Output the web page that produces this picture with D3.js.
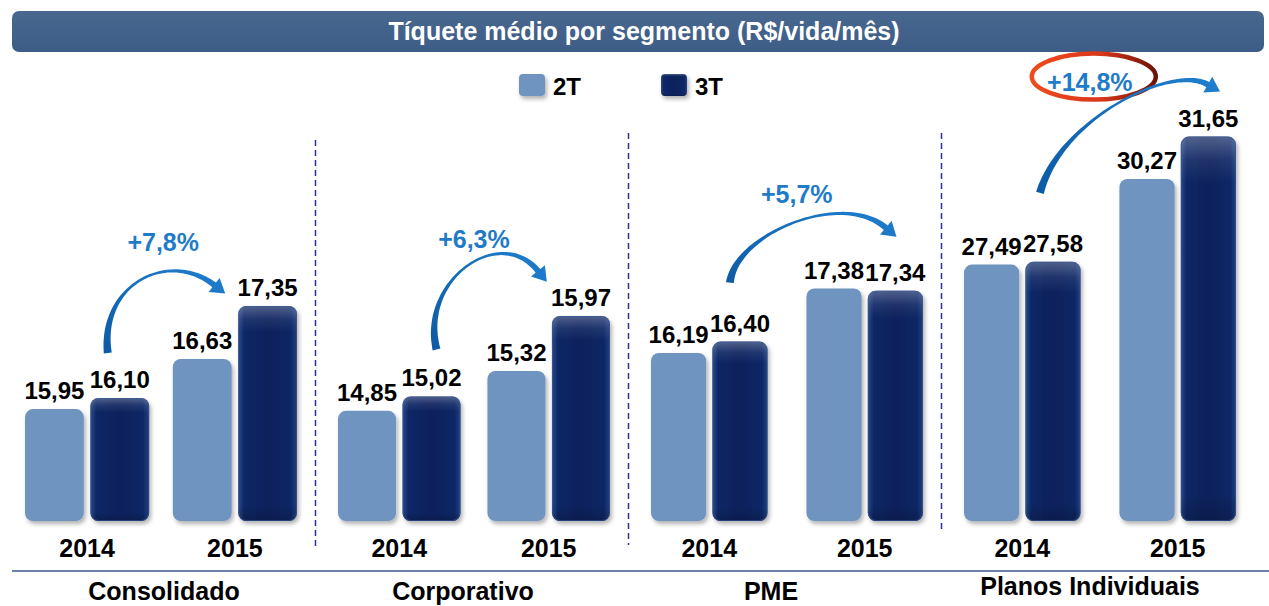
<!DOCTYPE html>
<html><head><meta charset="utf-8">
<script src="https://cdn.jsdelivr.net/npm/d3@7"></script>
<style>
html,body{margin:0;padding:0;background:#fff;}
text{font-family:"Liberation Sans",Arial,sans-serif;font-weight:bold;}
</style></head>
<body>
<svg id="chart" width="1269" height="606"></svg>
<script>
// ---- data ----
const chartTitle = "Tíquete médio por segmento (R$/vida/mês)";
const categories = ["Consolidado", "Corporativo", "PME", "Planos Individuais"];
const years = ["2014", "2015"];
const seriesNames = ["2T", "3T"];
const values2T_2014 = [15.95, 14.85, 16.19, 27.49];
const values3T_2014 = [16.10, 15.02, 16.40, 27.58];
const values2T_2015 = [16.63, 15.32, 17.38, 30.27];
const values3T_2015 = [17.35, 15.97, 17.34, 31.65];
const growthLabels = ["+7,8%", "+6,3%", "+5,7%", "+14,8%"];
// per-panel value axis (truncated, not shown)
const axisMin = [14.43, 13.55, 13.09, 19.16];
const axisMax = [19.78, 18.20, 20.36, 31.96];

// ---- layout ----
const plotBottom = 521, plotTop = 127;
const svg = d3.select("#chart");
const defs = svg.append("defs");
const col2T = "#7094c0";

const fmt = d3.formatLocale({decimal: ",", thousands: ".", grouping: [3], currency: ["R$", ""]}).format(".2f");

// filters / gradients
const sh = defs.append("filter").attr("id", "shadow").attr("x", "-20%").attr("y", "-20%").attr("width", "150%").attr("height", "150%");
sh.append("feDropShadow").attr("dx", 2).attr("dy", 3).attr("stdDeviation", 2).attr("flood-color", "#000").attr("flood-opacity", 0.3);

const g3 = defs.append("linearGradient").attr("id", "g3T").attr("x1", 0).attr("x2", 1).attr("y1", 0).attr("y2", 0);
[["0%", "#2b4988"], ["10%", "#0f2866"], ["50%", "#0a215c"], ["90%", "#0f2866"], ["100%", "#22407f"]]
  .forEach(s => g3.append("stop").attr("offset", s[0]).attr("stop-color", s[1]));
const g3v = defs.append("linearGradient").attr("id", "g3Tv").attr("x1", 0).attr("x2", 0).attr("y1", 0).attr("y2", 1);
[["0%", "#ffffff", 0.28], ["6%", "#ffffff", 0.08], ["12%", "#ffffff", 0], ["93%", "#000", 0], ["100%", "#000", 0.2]]
  .forEach(s => g3v.append("stop").attr("offset", s[0]).attr("stop-color", s[1]).attr("stop-opacity", s[2]));
const gTitle = defs.append("linearGradient").attr("id", "gTitle").attr("x1", 0).attr("x2", 0).attr("y1", 0).attr("y2", 1);
gTitle.append("stop").attr("offset", "0%").attr("stop-color", "#48688f");
gTitle.append("stop").attr("offset", "100%").attr("stop-color", "#3d5c87");
const gEll = defs.append("linearGradient").attr("id", "gEll").attr("x1", 0).attr("x2", 1).attr("y1", 0).attr("y2", 0);
gEll.append("stop").attr("offset", "0%").attr("stop-color", "#f04a1e");
gEll.append("stop").attr("offset", "55%").attr("stop-color", "#d9381a");
gEll.append("stop").attr("offset", "100%").attr("stop-color", "#6e1206");

// title bar
svg.append("rect").attr("x", 12).attr("y", 11).attr("width", 1252).attr("height", 41).attr("rx", 7)
  .attr("fill", "url(#gTitle)");
svg.append("text").attr("x", 644).attr("y", 40).attr("text-anchor", "middle")
  .attr("fill", "#fff").attr("font-size", 25).text(chartTitle);

// legend
const legendX = d3.scaleOrdinal().domain(seriesNames).range([519, 661]);
seriesNames.forEach(s => {
  const lx = legendX(s);
  svg.append("rect").attr("x", lx).attr("y", 74).attr("width", 26).attr("height", 22).attr("rx", 4)
    .attr("fill", s === "2T" ? col2T : "url(#g3T)").attr("filter", "url(#shadow)");
  if (s === "3T") svg.append("rect").attr("x", lx).attr("y", 74).attr("width", 26).attr("height", 22).attr("rx", 4).attr("fill", "url(#g3Tv)");
  svg.append("text").attr("x", lx + 34).attr("y", 95).attr("font-size", 24).attr("fill", "#000").text(s);
});

// scales
const yearPad = [0.16, 0.18, 0.25, 0.25];
const xPanel = d3.scaleBand().domain(categories).range([25, 1236]).paddingInner(0.131);
const xYear = categories.map((c, i) => d3.scaleBand().domain(years).range([0, xPanel.bandwidth()]).paddingInner(yearPad[i]));
const xSeries = categories.map((c, i) => d3.scaleBand().domain(seriesNames).range([0, xYear[i].bandwidth()]).paddingInner(0.1));
const yScales = categories.map((c, i) => d3.scaleLinear().domain([axisMin[i], axisMax[i]]).range([plotBottom, plotTop]));

const rows = [];
categories.forEach((c, i) => {
  rows.push({cat: c, i, year: "2014", s: "2T", v: values2T_2014[i]});
  rows.push({cat: c, i, year: "2014", s: "3T", v: values3T_2014[i]});
  rows.push({cat: c, i, year: "2015", s: "2T", v: values2T_2015[i]});
  rows.push({cat: c, i, year: "2015", s: "3T", v: values3T_2015[i]});
});
const bx = d => xPanel(d.cat) + xYear[d.i](d.year) + xSeries[d.i](d.s);
const bw = d => xSeries[d.i].bandwidth();
const by = d => yScales[d.i](d.v);

// dividers
const divTop = [140, 133, 133], divBottom = [548, 545, 530];
categories.slice(1).forEach((c, k) => {
  const xd = (xPanel(categories[k]) + xPanel.bandwidth() + xPanel(c)) / 2 - 2;
  svg.append("line").attr("x1", xd).attr("x2", xd).attr("y1", divTop[k]).attr("y2", divBottom[k])
    .attr("stroke", "#2a2f9a").attr("stroke-width", 1.5).attr("stroke-dasharray", "6,4");
});

// bars
const bars = svg.append("g");
rows.forEach(d => {
  const x = bx(d), y = by(d), w = bw(d), h = plotBottom - y;
  bars.append("rect").attr("x", x).attr("y", y).attr("width", w).attr("height", h).attr("rx", 8)
    .attr("fill", d.s === "2T" ? col2T : "url(#g3T)").attr("filter", "url(#shadow)");
  if (d.s === "3T") {
    bars.append("rect").attr("x", x).attr("y", y).attr("width", w).attr("height", h).attr("rx", 8)
      .attr("fill", "url(#g3Tv)");
    bars.append("rect").attr("x", x + 0.5).attr("y", y + 0.5).attr("width", w - 1).attr("height", h - 1).attr("rx", 8)
      .attr("fill", "none").attr("stroke", "#3a5896").attr("stroke-opacity", 0.6);
  }
  svg.append("text").attr("x", x + w / 2).attr("y", y - 10).attr("text-anchor", "middle")
    .attr("font-size", 24).attr("fill", "#000").text(fmt(d.v));
});

// year labels
categories.forEach((c, i) => years.forEach(yr => {
  svg.append("text").attr("x", xPanel(c) + xYear[i](yr) + xYear[i].bandwidth() / 2).attr("y", 557)
    .attr("text-anchor", "middle").attr("font-size", 25).attr("fill", "#000").text(yr);
}));

// baseline rule
svg.append("line").attr("x1", 12).attr("x2", 1269).attr("y1", 571).attr("y2", 571)
  .attr("stroke", "#3b5a8c").attr("stroke-width", 1.5);

// category labels
const catOffset = [3, -11, -16, -10];
const catBase = [600, 600, 600, 595];
categories.forEach((c, i) => {
  svg.append("text").attr("x", xPanel(c) + xPanel.bandwidth() / 2 + catOffset[i]).attr("y", catBase[i])
    .attr("text-anchor", "middle").attr("font-size", 25).attr("fill", "#000").text(c);
});

// ---- growth arrows (annotation) ----
// tail relative to 2014-3T bar (center, top); head base relative to 2015-3T bar (left, top)
const arrowTail = [[-12, -45], [5, -47], [-10, -59], [-13, -69]];
const arrowHead = [[-24, -21], [-14, -45], [18, -63], [27, -52]];
const ctrl1 = [[-8, -70], [-17, -70], [5, -48], [20, -73]];
const ctrl2 = [[-45, -35], [-38, -47], [-45, -38], [-37, -21]];
const labelOff = [[-75, -64], [-78, -77], [-71, -97], [-91, -55]];

function bez(p0, p1, p2, p3, t) {
  const u = 1 - t;
  return [u*u*u*p0[0] + 3*u*u*t*p1[0] + 3*u*t*t*p2[0] + t*t*t*p3[0],
          u*u*u*p0[1] + 3*u*u*t*p1[1] + 3*u*t*t*p2[1] + t*t*t*p3[1]];
}
function bezD(p0, p1, p2, p3, t) {
  const u = 1 - t;
  return [3*u*u*(p1[0]-p0[0]) + 6*u*t*(p2[0]-p1[0]) + 3*t*t*(p3[0]-p2[0]),
          3*u*u*(p1[1]-p0[1]) + 6*u*t*(p2[1]-p1[1]) + 3*t*t*(p3[1]-p2[1])];
}
function arrowPath(p0, p1, p2, p3) {
  const N = 60, left = [], right = [];
  for (let k = 0; k <= N; k++) {
    const t = k / N;
    const p = bez(p0, p1, p2, p3, t), d = bezD(p0, p1, p2, p3, t);
    const L = Math.hypot(d[0], d[1]) || 1;
    const n = [-d[1] / L, d[0] / L];
    const w = (8 * (1 - t) + 6 * t - 4.5 * Math.sin(Math.PI * t)) / 2;
    left.push([p[0] + n[0] * w, p[1] + n[1] * w]);
    right.push([p[0] - n[0] * w, p[1] - n[1] * w]);
  }
  const d = bezD(p0, p1, p2, p3, 1), L = Math.hypot(d[0], d[1]);
  const u = [d[0] / L, d[1] / L], n = [-u[1], u[0]];
  const hw = 9, hl = 14;
  const pts = left.concat([[p3[0] + n[0]*hw, p3[1] + n[1]*hw], [p3[0] + u[0]*hl, p3[1] + u[1]*hl],
    [p3[0] - n[0]*hw, p3[1] - n[1]*hw]], right.reverse());
  return "M" + pts.map(p => p[0].toFixed(1) + "," + p[1].toFixed(1)).join("L") + "Z";
}

const gArr = defs.append("linearGradient").attr("id", "gArr").attr("x1", 0).attr("x2", 1).attr("y1", 1).attr("y2", 0);
gArr.append("stop").attr("offset", "0%").attr("stop-color", "#0d5aa4");
gArr.append("stop").attr("offset", "100%").attr("stop-color", "#1f7fcf");

categories.forEach((c, i) => {
  const a = rows.find(r => r.i === i && r.year === "2014" && r.s === "3T");
  const b = rows.find(r => r.i === i && r.year === "2015" && r.s === "3T");
  const ax = bx(a) + bw(a) / 2, ay = by(a);
  const bxl = bx(b), byt = by(b);
  const p0 = [ax + arrowTail[i][0], ay + arrowTail[i][1]];
  const p3 = [bxl + arrowHead[i][0], byt + arrowHead[i][1]];
  const p1 = [p0[0] + ctrl1[i][0], p0[1] + ctrl1[i][1]];
  const p2 = [p3[0] + ctrl2[i][0], p3[1] + ctrl2[i][1]];
  const lx = bxl + labelOff[i][0], ly = byt + labelOff[i][1];
  if (i === 3) {
    svg.append("ellipse").attr("cx", lx + 4).attr("cy", ly - 5).attr("rx", 62).attr("ry", 23)
      .attr("fill", "none").attr("stroke", "url(#gEll)").attr("stroke-width", 4.5);
  }
  svg.append("path").attr("d", arrowPath(p0, p1, p2, p3)).attr("fill", "url(#gArr)");
  svg.append("text").attr("x", lx).attr("y", ly + 9).attr("text-anchor", "middle")
    .attr("font-size", 25).attr("fill", "#1f7bc8").text(growthLabels[i]);
});
</script>
</body></html>
